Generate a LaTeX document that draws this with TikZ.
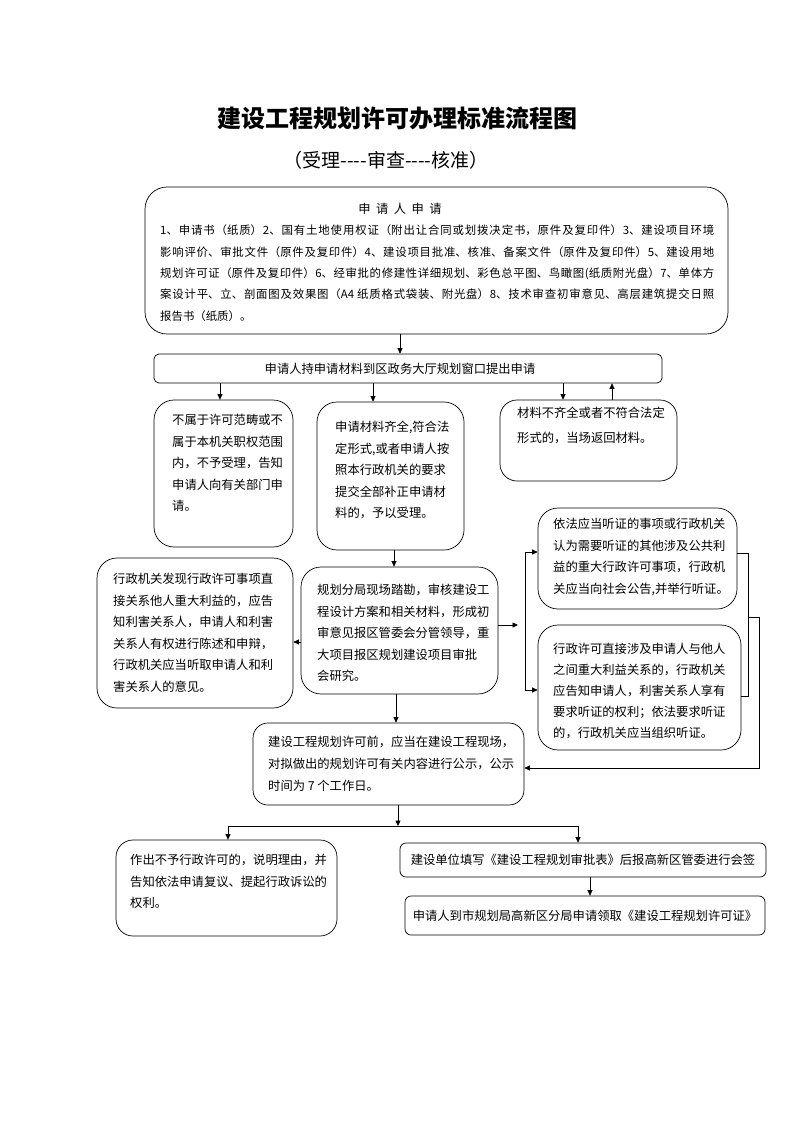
\documentclass[tikz,border=0pt]{standalone}
\usepackage{fontspec}
\setmainfont{Noto Sans CJK SC}
\usetikzlibrary{arrows.meta}
\XeTeXlinebreaklocale "zh"
\XeTeXlinebreakskip=0pt plus 2pt
\begin{document}
\begin{tikzpicture}[x=1pt,y=-1pt,
  box/.style={draw, line width=0.7pt, rounded corners=20pt, inner sep=0pt},
  sbox/.style={draw, line width=0.7pt, rounded corners=6pt, inner sep=0pt, font=\fontsize{12.3}{21.5}\selectfont},
  txt/.style={inner sep=0pt, anchor=north west, align=left, font=\fontsize{12.3}{21.5}\selectfont},
  ctxt/.style={inner sep=0pt, font=\fontsize{12.3}{21.5}\selectfont},
  arr/.style={-{Triangle[length=5.5pt,width=5pt]}, line width=0.7pt},
  ln/.style={line width=0.7pt}]
\useasboundingbox (0,0) rectangle (793,1122);
\fill[white] (0,0) rectangle (793,1122);

% title
\node[inner sep=0pt, font=\fontsize{24}{28}\selectfont\bfseries] (title) at (397,118) {建设工程规划许可办理标准流程图};
\node[inner sep=0pt, font=\fontsize{19}{22}\selectfont] (sub) at (386,160) {（受理-{}-{}-{}-审查-{}-{}-{}-核准）};

% boxes
\node[box, rounded corners=22pt, minimum width=583pt, minimum height=147pt] (b1) at (436.5,260.5) {};
\node[sbox, rounded corners=5pt, minimum width=508pt, minimum height=29pt] (b2) at (408,368.5) {};
\node[box, minimum width=139pt, minimum height=147pt] (b3) at (223.5,473.5) {};
\node[box, minimum width=147pt, minimum height=148pt] (b4) at (390.5,476) {};
\node[box, rounded corners=17pt, minimum width=177pt, minimum height=81pt] (b5) at (588.5,440.5) {};
\node[box, minimum width=197pt, minimum height=127pt] (b6) at (399.5,630.5) {};
\node[box, minimum width=196pt, minimum height=150pt] (b7) at (195,633) {};
\node[box, minimum width=199pt, minimum height=101pt] (b8) at (637.5,558.5) {};
\node[box, minimum width=203pt, minimum height=125pt] (b9) at (639.5,687.5) {};
\node[box, rounded corners=15pt, minimum width=271pt, minimum height=82pt] (b10) at (388.5,764) {};
\node[box, rounded corners=17pt, minimum width=221pt, minimum height=96pt] (b11) at (226.5,888) {};
\node[sbox, minimum width=366pt, minimum height=34pt] (b12) at (583,860) {建设单位填写《建设工程规划审批表》后报高新区管委进行会签};
\node[sbox, minimum width=360pt, minimum height=39pt] (b13) at (585,915.5) {申请人到市规划局高新区分局申请领取《建设工程规划许可证》};

% texts
\node[ctxt] (h1) at (400,209) {申\hspace{5.5pt}请\hspace{5.5pt}人\hspace{5.5pt}申\hspace{5.5pt}请};
\node[txt, text width=554pt, align=justify, font=\fontsize{11.4}{21.3}\selectfont] (t1) at (160,225) {1、申请书（纸质）2、国有土地使用权证（附出让合同或划拨决定书，原件及复印件）3、建设项目环境\linebreak 影响评价、审批文件（原件及复印件）4、建设项目批准、核准、备案文件（原件及复印件）5、建设用地\linebreak 规划许可证（原件及复印件）6、经审批的修建性详细规划、彩色总平图、鸟瞰图(纸质附光盘）7、单体方\linebreak 案设计平、立、剖面图及效果图（A4 纸质格式袋装、附光盘）8、技术审查初审意见、高层建筑提交日照\linebreak 报告书（纸质）。};
\node[ctxt] (t2) at (400,369) {申请人持申请材料到区政务大厅规划窗口提出申请};
\node[txt] (t3) at (172,414) {不属于许可范畴或不\\属于本机关职权范围\\内，不予受理，告知\\申请人向有关部门申\\请。};
\node[txt] (t4) at (335,421) {申请材料齐全,符合法\\定形式,或者申请人按\\照本行政机关的要求\\提交全部补正申请材\\料的，予以受理。};
\node[txt, font=\fontsize{12.3}{25}\selectfont] (t5) at (517,407) {材料不齐全或者不符合法定\\形式的，当场返回材料。};
\node[txt] (t6) at (317,584) {规划分局现场踏勘，审核建设工\\程设计方案和相关材料，形成初\\审意见报区管委会分管领导，重\\大项目报区规划建设项目审批\\会研究。};
\node[txt] (t7) at (113,573) {行政机关发现行政许可事项直\\接关系他人重大利益的，应告\\知利害关系人，申请人和利害\\关系人有权进行陈述和申辩，\\行政机关应当听取申请人和利\\害关系人的意见。};
\node[txt] (t8) at (553,518) {依法应当听证的事项或行政机关\\认为需要听证的其他涉及公共利\\益的重大行政许可事项，行政机\\关应当向社会公告,并举行听证。};
\node[txt, font=\fontsize{12.3}{21}\selectfont] (t9) at (553,643) {行政许可直接涉及申请人与他人\\之间重大利益关系的，行政机关\\应告知申请人，利害关系人享有\\要求听证的权利；依法要求听证\\的，行政机关应当组织听证。};
\node[txt, font=\fontsize{12.3}{22}\selectfont] (t10) at (268,736) {建设工程规划许可前，应当在建设工程现场，\\对拟做出的规划许可有关内容进行公示，公示\\时间为 7 个工作日。};
\node[txt] (t11) at (130,854) {作出不予行政许可的，说明理由，并\\告知依法申请复议、提起行政诉讼的\\权利。};

% connectors
\draw[arr] (400,0 |- b1.south) -- (400,0 |- b2.north);
\draw[arr] (220,0 |- b2.south) -- (220,0 |- b3.north);
\draw[arr] (373,0 |- b2.south) -- (373,0 |- b4.north);
\draw[arr] (563,0 |- b2.south) -- (563,0 |- b5.north);
\draw[arr] (612,0 |- b5.north) -- (612,0 |- b2.south);
\draw[arr] (394,0 |- b4.south) -- (394,0 |- b6.north);
\draw[arr] (b6.west |- 0,642) -- (b7.east |- 0,642);
\coordinate (j1) at (518,625);
\draw[arr] (b6.east |- 0,625) -- (j1);
\coordinate (lt) at (525,552);
\coordinate (lb) at (525,690);
\draw[ln] (lt) -- (lb);
\draw[arr] (lt) -- (b8.west |- lt);
\draw[arr] (lb) -- (b9.west |- lb);
\coordinate (rt) at (748,553);
\coordinate (rb) at (748,696);
\coordinate (rm) at (748,617);
\coordinate (ro) at (759,617);
\coordinate (rd) at (759,768);
\draw[ln] (b8.east |- rt) -- (rt) -- (rb) -- (b9.east |- rb);
\draw[arr] (rm) -- (ro) -- (rd) -- (b10.east |- rd);
\draw[arr] (396,0 |- b6.south) -- (396,0 |- b10.north);
\coordinate (hl) at (228,826);
\coordinate (hr) at (578,826);
\coordinate (hm) at (398,826);
\draw[arr] (hm |- b10.south) -- (hm);
\draw[ln] (hl) -- (hr);
\draw[arr] (hl) -- (hl |- b11.north);
\draw[arr] (hr) -- (hr |- b12.north);
\draw[arr] (590,0 |- b12.south) -- (590,0 |- b13.north);
\end{tikzpicture}
\end{document}
